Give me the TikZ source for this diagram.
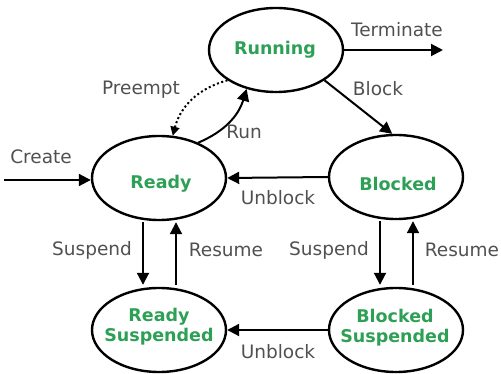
\documentclass[tikz,border=0pt]{standalone}
\usepackage{fontspec}
\setmainfont{DejaVu Sans}
\usetikzlibrary{shapes.geometric,arrows.meta}
\definecolor{stategreen}{RGB}{45,160,85}
\definecolor{labelgray}{RGB}{80,80,80}
\tikzset{
  state/.style={ellipse,draw=black,line width=2.4pt,minimum width=134pt,minimum height=84pt,inner sep=0pt},
  stxt/.style={font=\fontsize{17.5}{22}\selectfont\bfseries,text=stategreen,align=center,inner sep=0pt},
  lbl/.style={font=\fontsize{18.5}{20}\selectfont,text=labelgray,inner sep=0pt},
  conn/.style={line width=2pt,-{Triangle[length=12pt,width=12pt]}},
  dotconn/.style={line width=2pt,dash pattern=on 2pt off 2.5pt,-{Triangle[length=9pt,width=9pt]}}
}
\begin{document}
\begin{tikzpicture}[x=1pt,y=-1pt]
\useasboundingbox (0,0) rectangle (501,374);
\node[state] (running) at (276,50) {};
\node[state] (ready) at (159,178) {};
\node[state] (blocked) at (396,177) {};
\node[state] (rs) at (159,330) {};
\node[state] (bs) at (396,330) {};
\node[stxt] (trun) at (275,50) {Running};
\node[stxt] (trdy) at (161,184) {Ready};
\node[stxt] (tblk) at (398,184) {Blocked};
\node[stxt] (trs) at (159,327) {Ready\\[-2pt]Suspended};
\node[stxt] (tbs) at (395,328) {Blocked\\[-2pt]Suspended};

\coordinate (cstart) at (4,180);
\coordinate (tend) at (443,50);
\draw[conn] (cstart) -- (cstart -| ready.west);
\draw[conn] (running.east) -- (tend);
\draw[conn] (running.-32) -- (blocked.95);
\draw[dotconn] (running.212) to[bend right=30] (ready.72);
\draw[conn] (ready.42) to[bend right=25] (running.233);
\draw[conn] (blocked.west) -- (ready.east);
\draw[conn] ([xshift=-16pt,yshift=-1pt]ready.south) -- ([xshift=-16pt,yshift=2pt]rs.north);
\draw[conn] ([xshift=17pt,yshift=2pt]rs.north) -- ([xshift=17pt,yshift=-1pt]ready.south);
\draw[conn] ([xshift=-16pt,yshift=-1pt]blocked.south) -- ([xshift=-16pt,yshift=2pt]bs.north);
\draw[conn] ([xshift=17pt,yshift=2pt]bs.north) -- ([xshift=17pt,yshift=-1pt]blocked.south);
\draw[conn] (bs.west) -- (rs.east);

\node[lbl] (lterm) at (397,30) {Terminate};
\node[lbl] (lcreate) at (41,157) {Create};
\node[lbl] (lpre) at (141,90) {Preempt};
\node[lbl] (lblock) at (378,89) {Block};
\node[lbl] (lrun) at (244,132) {Run};
\node[lbl] (lunb1) at (278,198) {Unblock};
\node[lbl] (lsus1) at (92,250) {Suspend};
\node[lbl] (lres1) at (226,250) {Resume};
\node[lbl] (lsus2) at (329,250) {Suspend};
\node[lbl] (lres2) at (462,250) {Resume};
\node[lbl] (lunb2) at (278,352) {Unblock};
\end{tikzpicture}
\end{document}
